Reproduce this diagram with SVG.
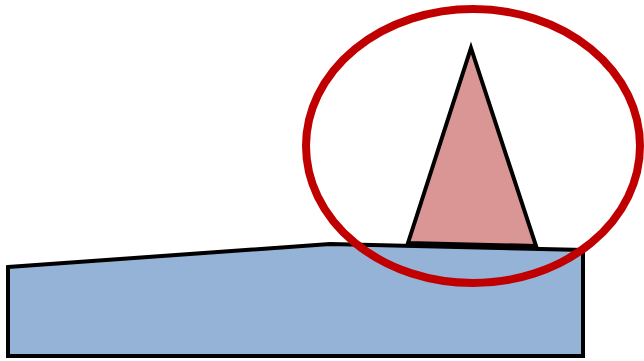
<svg xmlns="http://www.w3.org/2000/svg" width="644" height="361" viewBox="0 0 644 361">
<style>
.shape{stroke:#000;stroke-width:4;stroke-linejoin:miter}
</style>
<rect width="644" height="361" fill="#fff"/>
<g id="ground">
<polygon class="shape" fill="#95b3d7" points="8,267 330,244 583,250 583,356 8,356"/>
</g>
<g id="peak">
<polygon class="shape" fill="#d99694" points="471,48 536,246 408,243"/>
</g>
<g id="highlight">
<ellipse cx="473" cy="146" rx="167" ry="137" fill="none" stroke="#c00000" stroke-width="8"/>
</g>
</svg>
